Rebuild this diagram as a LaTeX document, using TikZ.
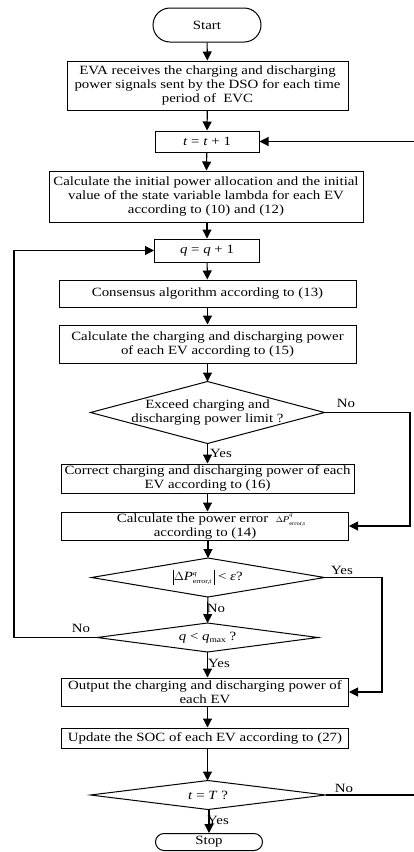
\documentclass[tikz,border=0pt]{standalone}
\usepackage{fontspec}
\setmainfont{Liberation Serif}[FakeStretch=1.18]
\usetikzlibrary{arrows.meta,shapes.geometric}
\newcommand\mi[1]{\textit{#1}}
\newcommand\fsz{\fontsize{12.6}{14}\selectfont}
\newcommand\sps[3]{\makebox[0pt][l]{\raisebox{0.95ex}{\fontsize{#3}{#3}\selectfont\mi{#1}}}\raisebox{-0.6ex}{\fontsize{#3}{#3}\selectfont #2}}
\begin{document}
\begin{tikzpicture}[x=1pt,y=-1pt,
  box/.style={draw, line width=1pt, rectangle, inner sep=0pt, align=center, font=\fsz},
  term/.style={draw, line width=1pt, rectangle, inner sep=0pt, align=center, font=\fsz},
  dec/.style={draw, line width=1pt, diamond, inner sep=0pt, outer sep=0pt},
  dtext/.style={align=center, font=\fsz, inner sep=0pt},
  lab/.style={font=\fsz, inner sep=0pt},
  arr/.style={-{Triangle[length=9pt,width=9pt]}, line width=1.1pt},
  ln/.style={line width=1.1pt}]
\path[use as bounding box] (0,0) rectangle (414,852);
\clip (0,0) rectangle (414,852);
% nodes
\node[term, rounded corners=17pt, minimum width=108pt, minimum height=34pt] (start) at (207,25) {Start};
\node[box, minimum width=281pt, minimum height=49pt] (b1) at (207.5,85.5) {EVA receives the charging and discharging\\power signals sent by the DSO for each time\\period of\ \ EVC};
\node[box, minimum width=104pt, minimum height=21pt] (tb) at (207,141.5) {\mi{t} = \mi{t} + 1};
\node[box, minimum width=314pt, minimum height=51pt] (init) at (206,196.5) {Calculate the initial power allocation and the initial\\value of the state variable lambda for each EV\\according to (10) and (12)};
\node[box, minimum width=105pt, minimum height=23pt] (qb) at (207,250.5) {\mi{q} = \mi{q} + 1};
\node[box, minimum width=297pt, minimum height=27pt] (cons) at (207.5,293.5) {Consensus algorithm according to (13)};
\node[box, minimum width=297pt, minimum height=38pt] (calc) at (207.5,344) {Calculate the charging and discharging power\\of each EV according to (15)};
\node[dec, minimum width=234pt, minimum height=62pt] (d1) at (207.5,412.5) {};
\node[dtext] (d1t) at (207.5,412.5) {Exceed charging and\\discharging power limit ?};
\node[box, minimum width=293pt, minimum height=29pt] (corr) at (207.5,478.5) {Correct charging and discharging power of each\\EV according to (16)};
\node[box, minimum width=287pt, minimum height=28pt] (err) at (205,526) {\hspace*{12pt}Calculate the power error \ {\fontsize{8}{8}\selectfont$\Delta$}\mi{\fontsize{9}{9}\selectfont P}\sps{q}{error,t}{5.5}\\according to (14)};
\node[dec, minimum width=233pt, minimum height=39pt] (d2) at (208,577.5) {};
\node[dtext] (d2t) at (208,577.5) {\rule[-4.5pt]{0.7pt}{15pt}$\Delta$\mi{P}\sps{q}{error,t}{6.5}\,\rule[-4.5pt]{0.7pt}{15pt} < \mi{ε}?};
\node[dec, minimum width=221pt, minimum height=29pt] (d3) at (207.5,637.5) {};
\node[dtext] (d3t) at (207.5,637.5) {\mi{q} < \mi{q}\raisebox{-0.45ex}{\fontsize{8}{8}\selectfont max} ?};
\node[box, minimum width=287pt, minimum height=28pt] (out) at (205,692) {Output the charging and discharging power of\\each EV};
\node[box, minimum width=287pt, minimum height=20pt] (upd) at (205,738) {Update the SOC of each EV according to (27)};
\node[dec, minimum width=235pt, minimum height=29pt] (d4) at (208,795) {};
\node[dtext] (d4t) at (208,795) {\mi{t} = \mi{T} ?};
\node[term, rounded corners=8.5pt, minimum width=107pt, minimum height=17pt] (stop) at (209,842) {Stop};
% rails
\coordinate (rr1) at (410,0);
\coordinate (rr2) at (382,0);
\coordinate (rl) at (14,0);
\coordinate (rr3) at (420,0);
% main flow
\draw[arr] (start) -- (b1);
\draw[arr] (b1) -- (tb);
\draw[arr] (tb) -- (init);
\draw[arr] (init.south -| qb) -- (qb);
\draw[arr] (qb) -- (cons);
\draw[arr] (cons) -- (calc);
\draw[arr] (calc.south -| d1) -- (d1);
\draw[arr] (d1) -- (d1 |- corr.north);
\draw[arr] (corr.south -| d1) -- (d1 |- err.north);
\draw[arr] (err.south -| d2) -- (d2);
\draw[arr] (d2) -- (d3);
\draw[arr] (d3) -- (d3 |- out.north);
\draw[arr] (out.south -| d3) -- (d3 |- upd.north);
\draw[arr] (upd.south -| d3) -- (d3 |- d4.north);
\draw[arr] (d4.south -| stop) -- (stop);
% loops
\draw[arr] (d1.east) -- (d1.east -| rr1) |- (err.east);
\draw[arr] (d2.east) -- (d2.east -| rr2) |- (out.east);
\draw[arr] (d3.west) -- (d3.west -| rl) |- (qb.west);
\draw[arr] (d4.east) -- (d4.east -| rr3) |- (tb.east);
% labels
\node[lab] (l1) at (346,403) {No};
\node[lab] (l2) at (221,453) {Yes};
\node[lab] (l3) at (342,570) {Yes};
\node[lab] (l4) at (216,608) {No};
\node[lab] (l5) at (81,628) {No};
\node[lab] (l6) at (219,663) {Yes};
\node[lab] (l7) at (344,788) {No};
\node[lab] (l8) at (218,820) {Yes};
\end{tikzpicture}
\end{document}
